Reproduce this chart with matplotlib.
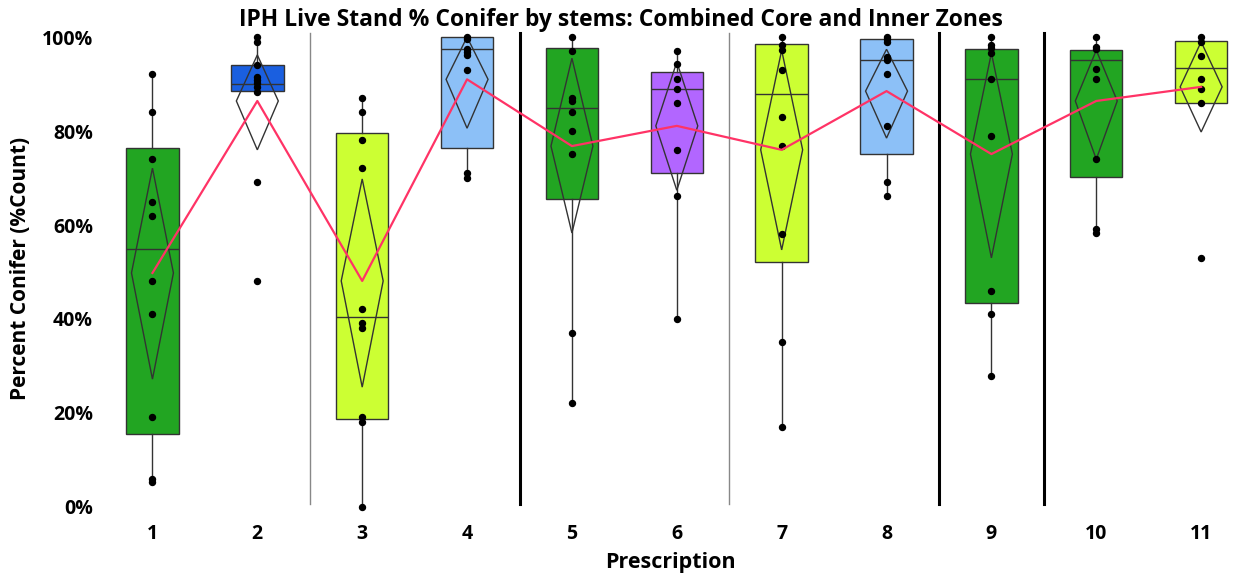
import matplotlib
matplotlib.use("Agg")
import matplotlib.pyplot as plt
from matplotlib.patches import Polygon
from matplotlib.ticker import FuncFormatter

plt.rcParams['font.family'] = ['Open Sans', 'DejaVu Sans']

# ---- data ----
prescriptions = [1, 2, 3, 4, 5, 6, 7, 8, 9, 10, 11]
q1 = [15.5, 88.6, 18.7, 76.4, 65.5, 71.0, 52.1, 75.1, 43.4, 70.2, 86.0]
q3 = [76.4, 94.0, 79.6, 100.0, 97.7, 92.6, 98.5, 99.6, 97.4, 97.2, 99.1]
medians = [54.9, 90.0, 40.4, 97.4, 85.0, 88.9, 87.9, 95.1, 91.0, 95.1, 93.4]
whisk_lo = [5.3, 88.6, 0.0, 70.0, 22.1, 40.0, 17.0, 66.2, 27.9, 58.3, 86.0]
whisk_hi = [92.1, 100.0, 87.0, 100.0, 100.0, 97.0, 100.0, 100.0, 100.0, 100.0, 100.0]
means = [49.8, 86.4, 48.1, 91.0, 76.8, 81.1, 76.0, 88.5, 75.1, 86.4, 89.4]
ci_lo = [27.2, 76.0, 25.5, 80.6, 58.3, 67.4, 54.7, 78.5, 53.0, 74.0, 79.8]
ci_hi = [72.1, 96.2, 69.8, 100.0, 95.5, 94.7, 97.2, 97.4, 96.6, 97.2, 99.0]
points = [
    [92.1, 84.0, 74.0, 64.9, 61.9, 48.1, 41.1, 19.1, 6.0, 5.3],
    [100.0, 99.0, 94.0, 91.5, 90.9, 90.2, 89.4, 88.3, 69.1, 48.1],
    [87.0, 84.0, 78.1, 72.1, 42.1, 39.1, 38.1, 19.1, 18.1, 0.0],
    [100.0, 99.5, 97.4, 96.8, 96.2, 93.0, 71.0, 70.0],
    [100.0, 97.0, 87.0, 86.4, 84.0, 80.0, 75.1, 37.0, 22.1],
    [97.0, 94.3, 91.0, 88.9, 86.0, 76.0, 66.2, 40.0],
    [100.0, 98.3, 97.2, 93.0, 83.0, 76.8, 58.1, 35.1, 17.0],
    [100.0, 99.5, 99.0, 95.7, 95.1, 92.1, 81.1, 69.1, 66.2],
    [100.0, 98.3, 97.7, 96.6, 91.0, 79.0, 46.0, 41.1, 27.9],
    [100.0, 97.9, 97.4, 93.2, 91.0, 74.0, 59.1, 58.3],
    [100.0, 99.0, 96.0, 91.0, 88.9, 86.0, 53.0],
]
box_colors = ['#22a522', '#1a5fe0', '#ccff33', '#8cc0f7', '#22a522', '#b266ff',
              '#ccff33', '#8cc0f7', '#22a522', '#22a522', '#ccff33']
thin_separators = [2.5, 6.5]
thick_separators = [4.5, 8.5, 9.5]
yticks = [0, 20, 40, 60, 80, 100]

fig = plt.figure(figsize=(12.41, 5.77), dpi=100)
ax = fig.add_axes([0.0806, 0.1092, 0.9194, 0.851])

stats = []
for i in range(len(prescriptions)):
    stats.append(dict(med=medians[i], q1=q1[i], q3=q3[i],
                      whislo=whisk_lo[i], whishi=whisk_hi[i], fliers=[]))

bp = ax.bxp(stats, positions=prescriptions, widths=0.5, patch_artist=True,
            showcaps=False, showfliers=False,
            boxprops=dict(linewidth=1.0, edgecolor='#333333'),
            medianprops=dict(color='#333333', linewidth=1.0),
            whiskerprops=dict(color='#333333', linewidth=1.0),
            zorder=2)
for patch, c in zip(bp['boxes'], box_colors):
    patch.set_facecolor(c)

# separators
for xs in thin_separators:
    ax.axvline(xs, ymin=0.02, ymax=0.98, color='#888888', linewidth=1.0, zorder=1)
for xs in thick_separators:
    ax.axvline(xs, ymin=0.02, ymax=0.98, color='black', linewidth=2.2, zorder=1)

# mean diamonds
dw = 0.2
for x, m, lo, hi in zip(prescriptions, means, ci_lo, ci_hi):
    poly = Polygon([(x - dw, m), (x, hi), (x + dw, m), (x, lo)], closed=True,
                   fill=False, edgecolor='#333333', linewidth=1.0, zorder=3)
    ax.add_patch(poly)

# points
for x, pts in zip(prescriptions, points):
    ax.plot([x] * len(pts), pts, 'o', color='black', markersize=4.3, zorder=4)

# mean line
ax.plot(prescriptions, means, color='#ff3366', linewidth=1.6, zorder=5)

ax.set_xlim(0.5, 11.38)
ax.set_ylim(-1.5, 103)
ax.set_xticks(prescriptions)
ax.set_xticklabels([str(p) for p in prescriptions])
ax.set_yticks(yticks)
ax.yaxis.set_major_formatter(FuncFormatter(lambda v, p: f"{int(v)}%"))
ax.tick_params(axis='x', length=0, labelsize=14, pad=7)
ax.tick_params(axis='y', length=0, labelsize=14, pad=5)
for lab in ax.get_xticklabels() + ax.get_yticklabels():
    lab.set_fontweight('bold')
for s in ax.spines.values():
    s.set_visible(False)

ax.set_xlabel('Prescription', fontsize=15.5, fontweight='bold', labelpad=6)
ax.set_ylabel('Percent Conifer (%Count)', fontsize=15, fontweight='bold', labelpad=8)
fig.text(0.5, 0.966, 'IPH Live Stand % Conifer by stems: Combined Core and Inner Zones',
         ha='center', va='center', fontsize=16.5, fontweight='bold')

fig.savefig('out.png', dpi=100)
